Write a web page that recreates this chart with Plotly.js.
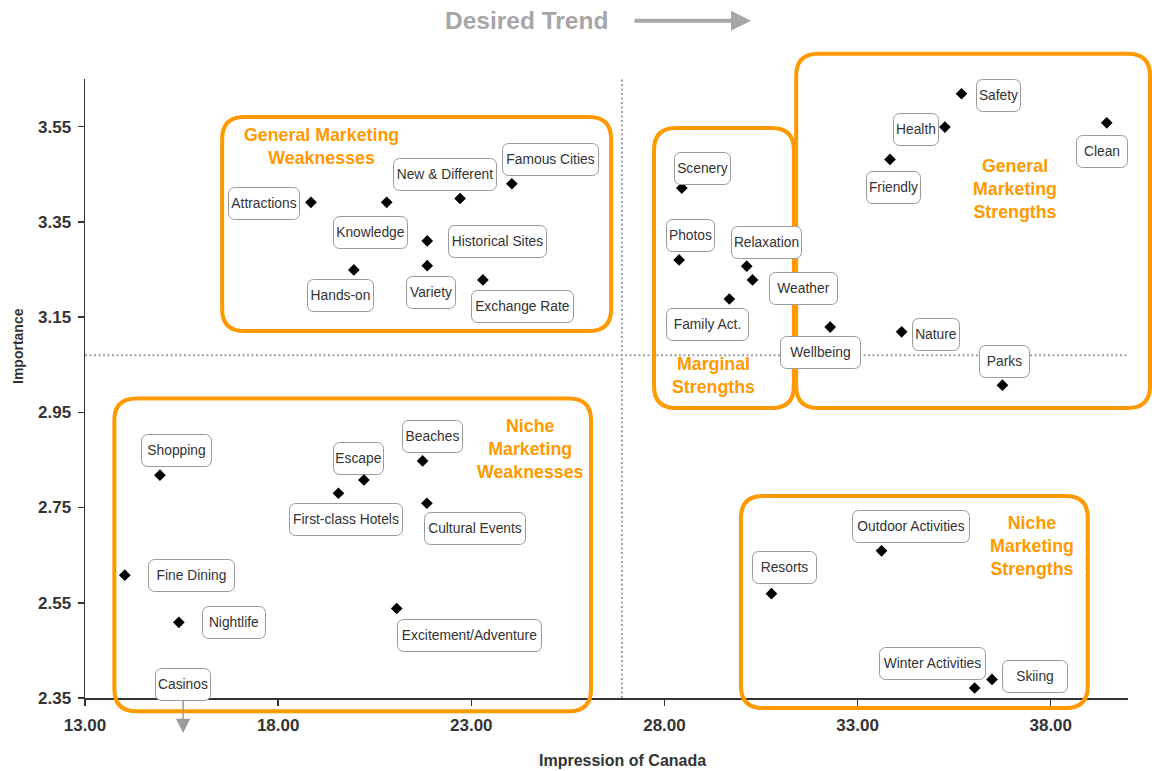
<!DOCTYPE html>
<html>
<head>
<meta charset="utf-8">
<script src="https://cdn.plot.ly/plotly-3.0.1.min.js"></script>
<style>
  html, body { margin: 0; padding: 0; background: #fff; }
  #chart { width: 1152px; height: 771px; }
</style>
</head>
<body>
<div id="chart"></div>
<script>
// ---------- DATA ----------
const attributes = [
  'Attractions', 'Knowledge', 'New & Different', 'Famous Cities', 'Historical Sites',
  'Variety', 'Hands-on', 'Exchange Rate',
  'Scenery', 'Photos', 'Relaxation', 'Weather', 'Family Act.', 'Wellbeing',
  'Nature', 'Parks', 'Safety', 'Health', 'Friendly', 'Clean',
  'Shopping', 'Escape', 'First-class Hotels', 'Beaches', 'Cultural Events',
  'Excitement/Adventure', 'Fine Dining', 'Nightlife',
  'Resorts', 'Outdoor Activities', 'Winter Activities', 'Skiing'
];
const impression = [
  18.85, 20.81, 22.71, 24.05, 21.86,
  21.86, 19.96, 23.30,
  28.45, 28.38, 30.13, 30.28, 29.68, 32.29,
  34.14, 36.75, 35.69, 35.26, 33.84, 39.45,
  14.94, 20.22, 19.56, 21.74, 21.85,
  21.07, 14.03, 15.43,
  30.77, 33.62, 36.03, 36.48
];
const importance = [
  3.391, 3.391, 3.399, 3.430, 3.310,
  3.258, 3.249, 3.228,
  3.421, 3.270, 3.257, 3.228, 3.188, 3.129,
  3.119, 3.007, 3.619, 3.549, 3.481, 3.558,
  2.818, 2.808, 2.780, 2.848, 2.759,
  2.538, 2.608, 2.509,
  2.569, 2.659, 2.371, 2.389
];
// attribute whose importance lies below the axis (drawn with an arrow)
const offScaleAttributes = ['Casinos'];
const offScaleImpression = [15.54];

// quadrant dividers
const impressionDivider = 26.9;
const importanceDivider = 3.07;

const xTickStart = 13, xTickStep = 5;
const yTickStart = 2.35, yTickStep = 0.2;

// ---------- LAYOUT HELPERS ----------
const xRange = [13, 40];
const yRange = [2.35, 3.65];
const M = { l: 85, r: 24, t: 79, b: 73 };
const FIG_W = 1152, FIG_H = 771;
const PW = FIG_W - M.l - M.r, PH = FIG_H - M.t - M.b;

const ORANGE = '#FF9900';
const FONT = 'Arial, "Liberation Sans", sans-serif';

// label box placement: [dx px, dy px (down), outer width px]
const labelPlacement = {
  'Attractions': [-47, 1, 72],
  'Knowledge': [-16.7, 29.7, 75],
  'New & Different': [-15.3, -23.6, 104],
  'Famous Cities': [38.3, -24, 97],
  'Historical Sites': [70.4, 0.7, 99],
  'Variety': [3.7, 27, 50],
  'Hands-on': [-13.7, 26, 67],
  'Exchange Rate': [39.6, 26.3, 103],
  'Scenery': [20.3, -20, 57],
  'Photos': [11, -24.3, 49],
  'Relaxation': [20, -23.3, 71],
  'Weather': [51.1, 9, 69],
  'Family Act.': [-22.3, 26, 83],
  'Wellbeing': [-9.7, 25, 81],
  'Nature': [34.5, 2.3, 48],
  'Parks': [2.2, -24, 51],
  'Safety': [36.8, 2, 45],
  'Health': [-29.2, 2, 46],
  'Friendly': [3.2, 28, 55],
  'Clean': [-4.4, 29, 52],
  'Shopping': [16.2, -24.7, 71],
  'Escape': [-5.2, -21.7, 51],
  'First-class Hotels': [7.2, 26.4, 114],
  'Beaches': [10.3, -24.7, 61],
  'Cultural Events': [48.5, 25.4, 102],
  'Excitement/Adventure': [72.5, 26.7, 145],
  'Fine Dining': [66.3, 0, 87],
  'Nightlife': [54.8, 0.7, 64],
  'Resorts': [13.4, -26, 65],
  'Outdoor Activities': [29.5, -24, 118],
  'Winter Activities': [-42, -24.7, 107],
  'Skiing': [42.5, -2.6, 66],
  'Casinos': [0, 0, 56]
};

// quadrant groups (data units): [x0, x1, yBottom, yTop]
const groupBoxes = [
  { name: 'General Marketing<br>Weaknesses', box: [16.55, 26.62, 3.121, 3.570], tx: 19.13, ty: 3.508 },
  { name: 'Marginal<br>Strengths', box: [27.73, 31.35, 2.959, 3.547], tx: 29.26, ty: 3.028 },
  { name: 'General<br>Marketing<br>Strengths', box: [31.41, 40.57, 2.959, 3.703], tx: 37.07, ty: 3.418 },
  { name: 'Niche<br>Marketing<br>Weaknesses', box: [13.76, 26.10, 2.322, 2.979], tx: 24.52, ty: 2.874 },
  { name: 'Niche<br>Marketing<br>Strengths', box: [29.98, 38.96, 2.329, 2.774], tx: 37.51, ty: 2.669 }
];

function xPaper(v) { return (v - xRange[0]) / (xRange[1] - xRange[0]); }
function yPaper(v) { return (v - yRange[0]) / (yRange[1] - yRange[0]); }

function roundedPath(b, rPx) {
  const x0 = xPaper(b[0]), x1 = xPaper(b[1]);
  const y0 = yPaper(b[2]), y1 = yPaper(b[3]);
  const rx = rPx / PW, ry = rPx / PH;
  return [
    'M', x0 + rx, y1,
    'L', x1 - rx, y1,
    'Q', x1, y1, x1, y1 - ry,
    'L', x1, y0 + ry,
    'Q', x1, y0, x1 - rx, y0,
    'L', x0 + rx, y0,
    'Q', x0, y0, x0, y0 + ry,
    'L', x0, y1 - ry,
    'Q', x0, y1, x0 + rx, y1, 'Z'
  ].join(' ');
}

// ---------- TRACES ----------
const traces = [{
  type: 'scatter',
  mode: 'markers',
  x: impression,
  y: importance,
  text: attributes,
  marker: { symbol: 'diamond', size: 9, color: '#000' },
  hoverinfo: 'text+x+y',
  showlegend: false
}];

// ---------- SHAPES ----------
const shapes = [
  { type: 'line', xref: 'x', yref: 'paper', x0: impressionDivider, x1: impressionDivider, y0: 0, y1: 1,
    line: { color: '#a0a0a0', width: 2, dash: '2px,2.5px' }, layer: 'below' },
  { type: 'line', xref: 'paper', yref: 'y', x0: 0, x1: 1, y0: importanceDivider, y1: importanceDivider,
    line: { color: '#a0a0a0', width: 2, dash: '2px,2.5px' }, layer: 'below' }
];
groupBoxes.forEach(g => {
  shapes.push({
    type: 'path', xref: 'paper', yref: 'paper',
    path: roundedPath(g.box, 22),
    line: { color: ORANGE, width: 4 },
    fillcolor: 'rgba(0,0,0,0)',
    layer: 'above'
  });
});

// ---------- ANNOTATIONS ----------
const annotations = [];
const labelFont = { family: FONT, size: 13.8, color: '#333' };

attributes.forEach((name, i) => {
  const p = labelPlacement[name];
  annotations.push({
    x: impression[i], y: importance[i], xref: 'x', yref: 'y',
    text: name, showarrow: false,
    xanchor: 'center', yanchor: 'middle',
    xshift: p[0], yshift: -p[1],
    width: p[2] - 2, height: 31,
    bgcolor: '#fff', bordercolor: '#9a9a9a', borderwidth: 1, borderpad: 0,
    font: labelFont
  });
});

offScaleAttributes.forEach((name, i) => {
  const p = labelPlacement[name];
  annotations.push({
    x: offScaleImpression[i], xref: 'x',
    y: -35 / PH, yref: 'paper',
    text: name, showarrow: true,
    ax: 0, ay: -49,
    arrowhead: 2, arrowsize: 1.9, arrowwidth: 1.5, arrowcolor: '#9a9a9a',
    width: p[2] - 2, height: 31,
    bgcolor: '#fff', bordercolor: '#9a9a9a', borderwidth: 1, borderpad: 0,
    font: labelFont
  });
});

groupBoxes.forEach(g => {
  annotations.push({
    x: g.tx, y: g.ty, xref: 'x', yref: 'y',
    text: g.name, showarrow: false,
    xanchor: 'center', yanchor: 'middle', align: 'center',
    font: { family: FONT, size: 17.8, color: ORANGE, weight: 'bold' }
  });
});

// Desired trend title + arrow
annotations.push({
  x: (526 - M.l) / PW, y: (PH + M.t - 20) / PH, xref: 'paper', yref: 'paper',
  text: '<b>Desired Trend</b>', showarrow: false,
  xanchor: 'center', yanchor: 'middle',
  font: { family: FONT, size: 24.5, color: '#a6a6a6' }
});
annotations.push({
  x: (751 - M.l) / PW, y: (PH + M.t - 20.7) / PH, xref: 'paper', yref: 'paper',
  text: '', showarrow: true, ax: -118, ay: 0,
  arrowhead: 2, arrowsize: 1, arrowwidth: 4, arrowcolor: '#a6a6a6'
});

// axis titles
annotations.push({
  x: (622 - M.l) / PW, y: -(760 - M.t - PH) / PH, xref: 'paper', yref: 'paper',
  text: '<b>Impression of Canada</b>', showarrow: false,
  xanchor: 'center', yanchor: 'middle',
  font: { family: FONT, size: 16, color: '#333' }
});
annotations.push({
  x: (18 - M.l) / PW, y: (PH + M.t - 346) / PH, xref: 'paper', yref: 'paper',
  text: '<b>Importance</b>', showarrow: false, textangle: -90,
  xanchor: 'center', yanchor: 'middle',
  font: { family: FONT, size: 14, color: '#333' }
});

const layout = {
  width: FIG_W, height: FIG_H,
  margin: M,
  paper_bgcolor: '#fff', plot_bgcolor: '#fff',
  font: { family: FONT, color: '#333' },
  showlegend: false,
  xaxis: {
    range: xRange, tick0: xTickStart, dtick: xTickStep, tickformat: '.2f',
    showgrid: false, zeroline: false, showline: true, linecolor: '#333', linewidth: 1.5,
    ticks: 'outside', ticklen: 6, tickwidth: 1.5, tickcolor: '#333',
    ticklabelstandoff: 5,
    tickfont: { family: FONT, size: 17, color: '#333', weight: 'bold' },
    fixedrange: true
  },
  yaxis: {
    range: yRange, tick0: yTickStart, dtick: yTickStep, tickformat: '.2f',
    showgrid: false, zeroline: false, showline: true, linecolor: '#333', linewidth: 1.5,
    ticks: 'outside', ticklen: 6, tickwidth: 1.5, tickcolor: '#333',
    ticklabelstandoff: 3,
    tickfont: { family: FONT, size: 17, color: '#333', weight: 'bold' },
    fixedrange: true
  },
  shapes: shapes,
  annotations: annotations
};

const gd = document.getElementById('chart');
Plotly.newPlot(gd, traces, layout, { displayModeBar: false, staticPlot: true }).then(() => {
  gd.querySelectorAll('.annotation rect.bg').forEach(r => {
    r.setAttribute('rx', 6);
    r.setAttribute('ry', 6);
  });
});
</script>
</body>
</html>
